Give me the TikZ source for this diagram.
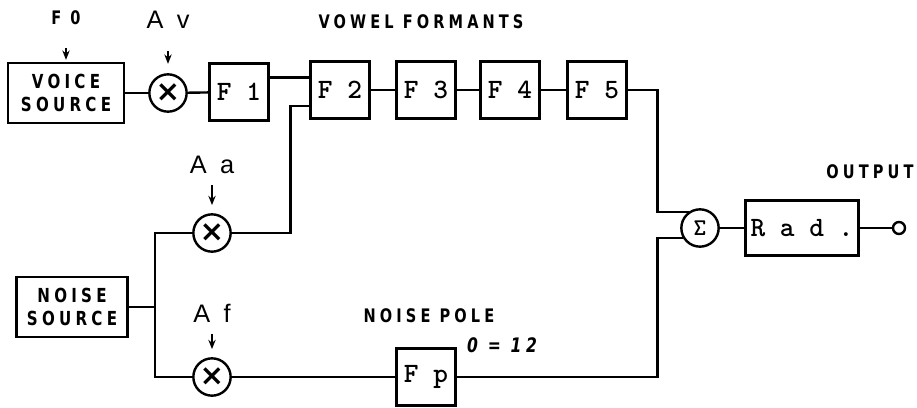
\documentclass[tikz,border=0pt]{standalone}
\usepackage{fontspec}
\usetikzlibrary{arrows.meta}
\newfontfamily\lblfont{DejaVu Sans}[FakeStretch=0.78,LetterSpace=22]
\newfontfamily\boxfont{lmmonolt10-bold.otf}
\newfontfamily\ampfont{Liberation Sans}
\newfontfamily\symfont{DejaVu Sans}
\tikzset{
	blk/.style = {draw, line width=1.8pt, minimum width=44pt, minimum height=43pt, inner sep=0pt, font=\boxfont\fontsize{21}{21}\selectfont},
	srcbox/.style = {draw, line width=1.8pt, minimum width=85pt, minimum height=45pt, align=center, inner sep=0pt, font=\lblfont\bfseries\fontsize{14.5}{17}\selectfont},
	mult/.style = {draw, circle, line width=1.8pt, minimum size=28pt, inner sep=0pt, font=\symfont\bfseries\fontsize{22}{22}\selectfont},
	lbl/.style = {font=\lblfont\bfseries\fontsize{14}{14}\selectfont},
	amp/.style = {font=\ampfont\fontsize{19}{19}\selectfont},
	wire/.style = {line width=1.8pt},
	ctl/.style = {line width=1.2pt, -{Stealth[length=7pt,width=5.5pt]}, shorten <=5pt, shorten >=6pt}
}
\begin{document}
\begin{tikzpicture}[x=0.75pt,y=-0.75pt]
	\useasboundingbox (0,0) rectangle (917,407);
	% voice branch
	\node[srcbox, minimum width=87pt] (voice) at (66,93) {VOICE\\SOURCE};
	\node[mult] (mv) at (168,93) {×};
	\node[blk] (f1) at (239,92) {F 1};
	\node[blk] (f2) at (340,90) {F 2};
	\node[blk] (f3) at (426,90) {F 3};
	\node[blk] (f4) at (510,90) {F 4};
	\node[blk] (f5) at (597,90) {F 5};
	% noise branch
	\node[srcbox, minimum width=83pt] (noise) at (72,307) {NOISE\\SOURCE};
	\node[mult] (ma) at (212,233) {×};
	\node[mult] (mf) at (212,377) {×};
	\node[blk] (fp) at (426,377) {F p};
	% output
	\node[mult, font=\boxfont\fontsize{18}{18}\selectfont] (sig) at (700,228) {Σ};
	\node[blk, minimum width=85pt, minimum height=41pt] (rad) at (802,228) {R a d .};
	\node[draw, circle, line width=1.8pt, minimum size=9pt, inner sep=0pt] (out) at (899,228) {};
	% labels
	\node[lbl] (f0) at (66,18) {F 0};
	\node[amp] (av) at (168,20) {A\hspace{10pt}v};
	\node[amp] (aa) at (212,165) {A\hspace{10pt}a};
	\node[amp] (af) at (212,313) {A\hspace{10pt}f};
	\node[lbl] (vf) at (421,22) {VOWEL FORMANTS};
	\node[lbl] (np) at (429,316) {NOISE POLE};
	\node[lbl] (outl) at (870,172) {OUTPUT};
	\node[font=\lblfont\bfseries\itshape\fontsize{15}{15}\selectfont] (qv) at (502,345) {0 = 12};
	% control arrows
	\draw[ctl, shorten <=14pt, shorten >=1.5pt] (f0) -- (voice);
	\draw[ctl, shorten <=13pt, shorten >=7pt] (av) -- (mv);
	\draw[ctl] (aa) -- (ma);
	\draw[ctl] (af) -- (mf);
	% wires
	\draw[wire] (voice) -- (mv);
	\draw[wire] (mv) -- (f1);
	\draw[wire] ([yshift=11pt]f1.east) -- ([yshift=11pt]f1.east -| f2.west);
	\draw[wire] (f2) -- (f3);
	\draw[wire] (f3) -- (f4);
	\draw[wire] (f4) -- (f5);
	\draw[wire] (f5.east) -- ++(30,0) coordinate (fv) |- (sig.125);
	\draw[wire] (noise) -- ++(83,0) coordinate (nj);
	\draw[wire] (nj) |- (ma);
	\draw[wire] (nj) |- (mf);
	\draw[wire] (ma) -| ([shift={(-19,16)}]f2.west) -- ([shift={(0,16)}]f2.west);
	\draw[wire] (mf) -- (fp);
	\draw[wire] (fp.east) -| (fv |- sig.210) -- (sig.210);
	\draw[wire] (sig) -- (rad);
	\draw[wire] (rad) -- (out);
\end{tikzpicture}
\end{document}
